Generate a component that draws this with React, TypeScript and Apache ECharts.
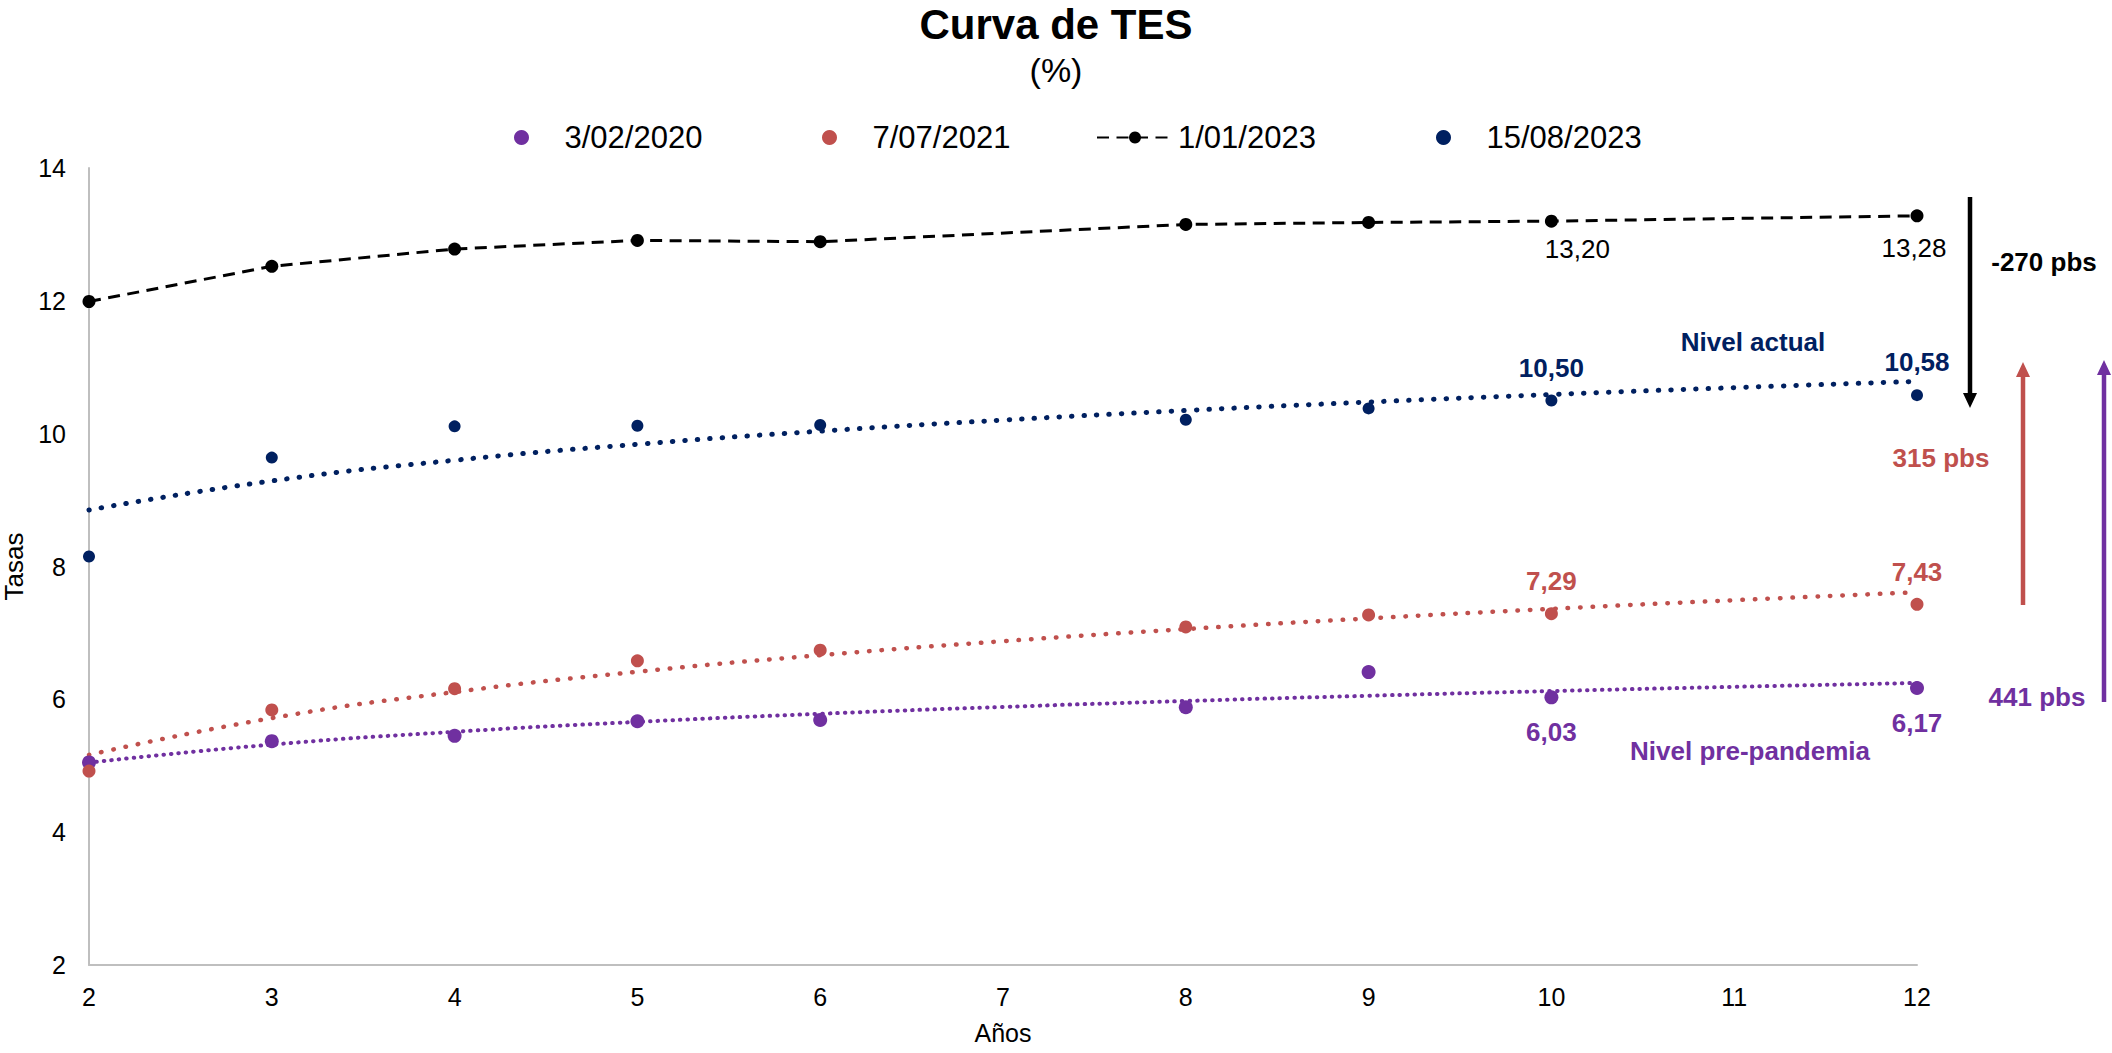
import { useEffect, useRef } from 'react';
import * as echarts from 'echarts';

// Plazos (años) de la curva TES
const years = [2, 3, 4, 5, 6, 8, 9, 10, 12];

// Tasas (%) por fecha de corte
const rates20200203 = [5.05, 5.37, 5.45, 5.67, 5.69, 5.88, 6.41, 6.03, 6.17];
const rates20210707 = [4.92, 5.84, 6.16, 6.58, 6.74, 7.09, 7.27, 7.29, 7.43];
const rates20230101 = [11.99, 12.52, 12.78, 12.91, 12.89, 13.15, 13.18, 13.2, 13.28];
const rates20230815 = [8.15, 9.64, 10.11, 10.12, 10.13, 10.21, 10.38, 10.5, 10.58];

const seriesNames = ['3/02/2020', '7/07/2021', '1/01/2023', '15/08/2023'];

// Plazos en los que se evalúa la tendencia logarítmica
const trendYears = [2, 3, 4, 5, 6, 7, 8, 9, 10, 11, 12];

// Plazos con etiqueta de valor
const labelledYears = [10, 12];

// Cambios en puntos básicos entre curvas
const spreadLabels = ['-270 pbs', '315 pbs', '441 pbs'];
const levelLabels = ['Nivel actual', 'Nivel pre-pandemia'];

const PURPLE = '#7030A0';
const RED = '#C0504D';
const BLACK = '#000000';
const NAVY = '#002060';
const FONT = '"Liberation Sans", Arial, Helvetica, sans-serif';

const fmt = (v: number) => v.toFixed(2).replace('.', ',');

// Ajuste por mínimos cuadrados y = a + b·ln(x)
function logFit(xs: number[], ys: number[]) {
  const lx = xs.map((x) => Math.log(x));
  const n = xs.length;
  const mx = lx.reduce((s, v) => s + v, 0) / n;
  const my = ys.reduce((s, v) => s + v, 0) / n;
  let sxy = 0;
  let sxx = 0;
  for (let i = 0; i < n; i++) {
    sxy += (lx[i] - mx) * (ys[i] - my);
    sxx += (lx[i] - mx) * (lx[i] - mx);
  }
  const b = sxy / sxx;
  const a = my - b * mx;
  return trendYears.map((x) => [x, a + b * Math.log(x)]);
}

function pointData(
  rates: number[],
  offsets: number[][],
  color: string,
  bold: boolean
) {
  return years.map((x, i) => {
    const item: any = { value: [x, rates[i]] };
    const li = labelledYears.indexOf(x);
    if (li >= 0) {
      item.label = {
        show: true,
        position: 'inside',
        offset: offsets[li],
        formatter: (p: any) => fmt(p.value[1]),
        color,
        opacity: 1,
        fontSize: 26,
        fontWeight: bold ? 'bold' : 'normal',
        fontFamily: FONT,
      };
    }
    return item;
  });
}

function trendSeries(rates: number[], color: string, width: number, dash: number[]) {
  return {
    type: 'line',
    data: logFit(years, rates),
    smooth: 0.5,
    showSymbol: false,
    symbol: 'none',
    silent: true,
    z: 1,
    lineStyle: { color, width, type: dash, cap: 'round', opacity: 1 },
  };
}

function arrow(x: number, from: number, to: number, color: string) {
  const dir = to > from ? 1 : -1;
  const headLen = 15;
  const headHalf = 7;
  const baseY = to - dir * headLen;
  return [
    {
      type: 'line',
      shape: { x1: x, y1: from, x2: x, y2: baseY },
      style: { stroke: color, lineWidth: 4.5 },
      silent: true,
    },
    {
      type: 'polygon',
      shape: {
        points: [
          [x - headHalf, baseY],
          [x + headHalf, baseY],
          [x, to],
        ],
      },
      style: { fill: color },
      silent: true,
    },
  ];
}

function annotation(text: string, x: number, y: number, color: string) {
  return {
    type: 'text',
    x,
    y,
    silent: true,
    style: {
      text,
      fill: color,
      font: `bold 26px ${FONT}`,
      align: 'center',
      verticalAlign: 'middle',
    },
  };
}

function legendItem(name: string, left: number, circle: boolean) {
  return {
    data: [circle ? { name, icon: 'circle' } : { name }],
    left,
    top: 122,
    padding: 0,
    itemWidth: 76,
    itemHeight: 15,
    selectedMode: false,
    textStyle: { fontSize: 31, color: '#000', fontFamily: FONT },
  };
}

export default function App() {
  const ref = useRef<HTMLDivElement>(null);

  useEffect(() => {
    if (!ref.current) return;
    const chart = echarts.init(ref.current, null, { renderer: 'svg' });

    const option: any = {
      animation: false,
      backgroundColor: '#ffffff',
      textStyle: { fontFamily: FONT },
      title: [
        {
          text: 'Curva de TES',
          left: 'center',
          top: 4,
          padding: 0,
          textStyle: {
            fontSize: 42,
            lineHeight: 40,
            fontWeight: 'bold',
            color: '#000',
            fontFamily: FONT,
          },
        },
        {
          text: '(%)',
          left: 'center',
          top: 53,
          padding: 0,
          textStyle: { fontSize: 34, fontWeight: 'normal', color: '#000', fontFamily: FONT },
        },
      ],
      legend: [
        legendItem(seriesNames[0], 514, true),
        legendItem(seriesNames[1], 822, true),
        legendItem(seriesNames[2], 1096, false),
        legendItem(seriesNames[3], 1436, true),
      ],
      grid: {
        left: 89,
        right: 195,
        top: 168,
        bottom: 88,
        containLabel: false,
        outerBoundsMode: 'none',
      },
      xAxis: {
        type: 'value',
        min: 2,
        max: 12,
        interval: 1,
        name: 'Años',
        nameLocation: 'middle',
        nameGap: 55,
        nameTextStyle: { fontSize: 25, color: '#000', fontFamily: FONT },
        axisLine: { show: true, lineStyle: { color: '#BFBFBF', width: 2 } },
        axisTick: { show: false },
        splitLine: { show: false },
        axisLabel: { fontSize: 25, color: '#000', margin: 19, fontFamily: FONT },
      },
      yAxis: {
        type: 'value',
        min: 2,
        max: 14,
        interval: 2,
        name: 'Tasas',
        nameLocation: 'middle',
        nameRotate: 90,
        nameGap: 60,
        nameTextStyle: { fontSize: 26, color: '#000', fontFamily: FONT },
        axisLine: { show: true, lineStyle: { color: '#BFBFBF', width: 2 } },
        axisTick: { show: false },
        splitLine: { show: false },
        axisLabel: { fontSize: 25, color: '#000', margin: 23, fontFamily: FONT },
      },
      series: [
        {
          name: seriesNames[0],
          type: 'scatter',
          symbol: 'circle',
          symbolSize: 14,
          itemStyle: { color: PURPLE, opacity: 1 },
          z: 3,
          data: pointData(rates20200203, [[0, 35], [0, 35]], PURPLE, true),
        },
        {
          name: seriesNames[1],
          type: 'scatter',
          symbol: 'circle',
          symbolSize: 13,
          itemStyle: { color: RED, opacity: 1 },
          z: 3,
          data: pointData(rates20210707, [[0, -33], [0, -32]], RED, true),
        },
        {
          name: seriesNames[2],
          type: 'line',
          symbol: 'circle',
          symbolSize: 13,
          showAllSymbol: true,
          itemStyle: { color: BLACK, opacity: 1 },
          lineStyle: { color: BLACK, width: 3, type: [12, 7.5] },
          z: 3,
          data: pointData(rates20230101, [[26, 28], [-3, 32]], BLACK, false),
        },
        {
          name: seriesNames[3],
          type: 'scatter',
          symbol: 'circle',
          symbolSize: 12,
          itemStyle: { color: NAVY, opacity: 1 },
          z: 3,
          data: pointData(rates20230815, [[0, -32], [0, -33]], NAVY, true),
        },
        trendSeries(rates20200203, PURPLE, 4, [0.5, 7]),
        trendSeries(rates20210707, RED, 4.5, [0.5, 12]),
        trendSeries(rates20230815, NAVY, 5, [0.5, 12]),
      ],
      graphic: [
        ...arrow(1970, 197, 408, BLACK),
        ...arrow(2023, 605, 362, RED),
        ...arrow(2104, 702, 360, PURPLE),
        annotation(spreadLabels[0], 2044, 262, BLACK),
        annotation(spreadLabels[1], 1941, 458, RED),
        annotation(spreadLabels[2], 2037, 697, PURPLE),
        annotation(levelLabels[0], 1753, 342, NAVY),
        annotation(levelLabels[1], 1750, 751, PURPLE),
      ],
    };

    chart.setOption(option);
    return () => chart.dispose();
  }, []);

  return (
    <div
      ref={ref}
      style={{ position: 'fixed', left: 0, top: 0, width: 2112, height: 1053, background: '#fff' }}
    />
  );
}
